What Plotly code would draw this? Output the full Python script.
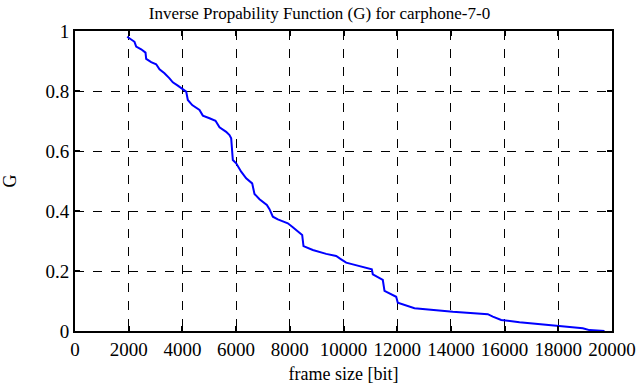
import plotly.graph_objects as go

frame_size = [1944, 2067, 2216, 2279, 2465, 2626, 2651, 2837, 3023, 3147, 3333, 3520, 3643,
              3829, 4041, 4141, 4202, 4365, 4637, 4761, 5009, 5233, 5382, 5630, 5754, 5817,
              5878, 6003, 6189, 6375, 6599, 6685, 6872, 7145, 7244, 7368, 7554, 7927, 8113,
              8387, 8461, 8510, 8857, 9355, 9727, 9913, 10100, 10347, 10968, 11054, 11091,
              11278, 11464, 11527, 11713, 11962, 12022, 12272, 12644, 14071, 15375, 15561,
              15873, 16555, 18045, 18913, 19162, 19721]
g_values = [0.981, 0.972, 0.964, 0.948, 0.939, 0.928, 0.907, 0.896, 0.889, 0.872, 0.859, 0.842,
            0.829, 0.818, 0.803, 0.798, 0.770, 0.753, 0.737, 0.718, 0.709, 0.701, 0.679, 0.664,
            0.653, 0.642, 0.570, 0.559, 0.531, 0.509, 0.492, 0.457, 0.439, 0.420, 0.406, 0.381,
            0.372, 0.359, 0.346, 0.326, 0.320, 0.283, 0.270, 0.257, 0.250, 0.239, 0.228, 0.222,
            0.209, 0.206, 0.189, 0.179, 0.170, 0.134, 0.126, 0.114, 0.094, 0.087, 0.076, 0.064,
            0.056, 0.048, 0.037, 0.029, 0.017, 0.009, 0.003, 0.0]

x_ticks = [0, 2000, 4000, 6000, 8000, 10000, 12000, 14000, 16000, 18000, 20000]
y_ticks = [0, 0.2, 0.4, 0.6, 0.8, 1]
y_tick_labels = ["0", "0.2", "0.4", "0.6", "0.8", "1"]

font = "Liberation Serif, Times New Roman, serif"

fig = go.Figure()
fig.add_trace(go.Scatter(x=frame_size, y=g_values, mode="lines",
                         line=dict(color="#0000ff", width=2), showlegend=False))

axis_common = dict(showline=True, linecolor="black", linewidth=2, mirror="ticks",
                   ticks="inside", ticklen=5, tickwidth=1.5, tickcolor="black",
                   showgrid=True, gridcolor="black", gridwidth=1, griddash="dash",
                   zeroline=False, automargin=False,
                   tickfont=dict(family=font, size=19, color="black"))

fig.update_layout(
    width=639, height=387,
    autosize=False,
    font=dict(family=font, size=18, color="black"),
    margin=dict(l=75, r=27, t=31, b=56, pad=0),
    paper_bgcolor="white", plot_bgcolor="white",
    title=dict(text="Inverse Propability Function (G) for carphone-7-0",
               x=0.5, xanchor="center", y=0.981, yanchor="top",
               font=dict(family=font, size=17, color="black")),
    xaxis=dict(range=[0, 20000], tickvals=x_ticks, ticktext=[str(v) for v in x_ticks],
               title=dict(text="frame size [bit]", font=dict(family=font, size=18, color="black"),
                          standoff=9),
               **axis_common),
    yaxis=dict(range=[0, 1], tickvals=y_ticks, ticktext=y_tick_labels,
               title=dict(text="G", font=dict(family=font, size=18, color="black"), standoff=24),
               **axis_common),
)

fig.write_html("out.html", config={"displayModeBar": False},
               post_script="document.body.style.margin='0';")
